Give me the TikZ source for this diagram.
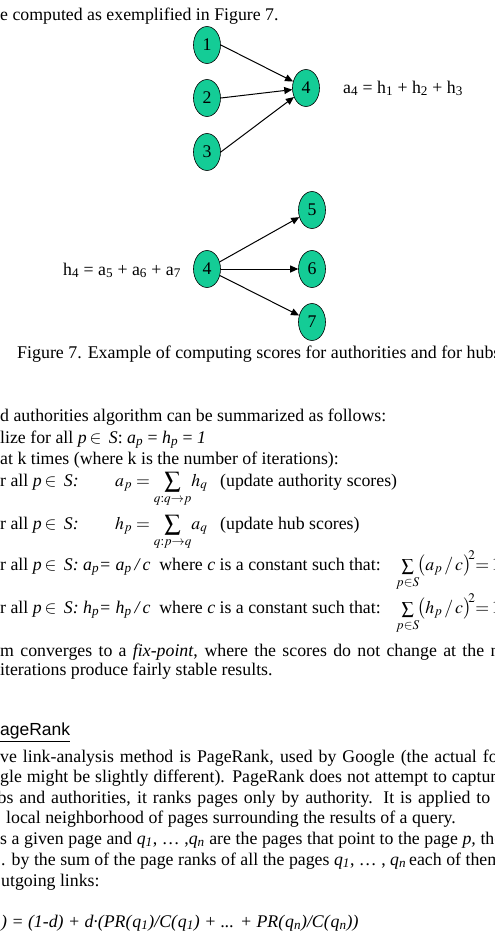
\documentclass[tikz,border=0pt]{standalone}
\usepackage{mathptmx}
\usepackage{amsmath}
\usepackage[no-math]{fontspec}
\setmainfont{Liberation Serif}
\newfontfamily\headfont{Liberation Sans}
\usetikzlibrary{shapes.geometric, arrows.meta}
\definecolor{pagegreen}{RGB}{20,204,150}
\newcommand{\tsub}[1]{\textsubscript{#1}}
\newcommand{\isub}[2]{\textit{#1}\textsubscript{\textit{#2}}}
\newcommand{\jline}[2]{\hbox to #1pt{#2}}
\newcommand{\psum}[1]{\mathop{\mbox{\fontsize{#1}{#1}\selectfont$\displaystyle\sum$}}}

\begin{document}
\begin{tikzpicture}[x=1pt, y=-1pt,
  every node/.style={inner sep=0pt},
  txt/.style={anchor=base west, font=\fontsize{17.8}{21}\selectfont},
  page/.style={ellipse, draw=black, semithick, fill=pagegreen,
               minimum width=27pt, minimum height=37pt,
               font=\fontsize{17.8}{21}\selectfont},
  link/.style={-{Triangle[length=8pt, width=7pt]}, line width=1pt}
]
\useasboundingbox (0,0) rectangle (495,946);
\clip (0,0) rectangle (495,946);

\node[txt] (intro) at (0,20) {e computed as exemplified in Figure 7.};

% authorities: 1,2,3 point to 4
\node[page] (auth1) at (207,45)  {1};
\node[page] (auth2) at (207,98)  {2};
\node[page] (auth3) at (207,152) {3};
\node[page] (auth4) at (306,88)  {4};
\draw[link] (auth1.east) -- (auth4);
\draw[link] (auth2.east) -- (auth4);
\draw[link] (auth3.east) -- (auth4);
\node[txt] (authEq) at (343,93) {a\tsub{4} = h\tsub{1} + h\tsub{2} + h\tsub{3}};

% hubs: 4 points to 5,6,7
\node[page] (hub4) at (207,269) {4};
\node[page] (hub5) at (312,210) {5};
\node[page] (hub6) at (312,269) {6};
\node[page] (hub7) at (312,322) {7};
\draw[link] (hub4) -- (hub5);
\draw[link] (hub4.east) -- (hub6.west);
\draw[link] (hub4) -- (hub7);
\node[txt] (hubEq) at (63,275) {h\tsub{4} = a\tsub{5} + a\tsub{6} + a\tsub{7}};

\node[txt, font=\fontsize{17.9}{21}\selectfont] (caption) at (17,358) {Figure 7. Example of computing scores for authorities and for hubs};

% algorithm
\node[txt] (alg0) at (0,421) {d authorities algorithm can be summarized as follows:};
\node[txt] (alg1) at (0,443) {lize for all \textit{p}\,$\in$\, \textit{S}: \isub{a}{p} = \isub{h}{p} = \textit{1}};
\node[txt] (alg2) at (0,464) {at k times (where k is the number of iterations):};
\node[txt] (alg3) at (0,486) {r all \textit{p}\,$\in$\, \textit{S:}};
\node[txt] (alg3m) at (115,486) {$a_p = \psum{16}\limits_{q:q\rightarrow p}\! h_q$};
\node[txt] (alg3c) at (220,486) {(update authority scores)};
\node[txt] (alg4) at (0,529) {r all \textit{p}\,$\in$\, \textit{S:}};
\node[txt] (alg4m) at (115,529) {$h_p = \psum{16}\limits_{q:p\rightarrow q}\! a_q$};
\node[txt] (alg4c) at (220,529) {(update hub scores)};
\node[txt] (alg5) at (0,570) {r all \textit{p}\,$\in$\, \textit{S: }\isub{a}{p}\textit{= }\isub{a}{p}\textit{\,/\,c}\ \ where \textit{c} is a constant such that:};
\node[txt] (alg5m) at (396,570) {$\psum{12}\limits_{p\in S}\!\bigl(a_p\,/\,c\bigr)^{\!\!2}{=}\,1$};
\node[txt] (alg6) at (0,613) {r all \textit{p}\,$\in$\, \textit{S: }\isub{h}{p}\textit{= }\isub{h}{p}\textit{\,/\,c}\ \ where \textit{c} is a constant such that:};
\node[txt] (alg6m) at (396,613) {$\psum{12}\limits_{p\in S}\!\bigl(h_p\,/\,c\bigr)^{\!\!2}{=}\,1$};
\node[txt] (conv0) at (0,656) {\jline{521}{m converges to a \textit{fix-point}, where the scores do not change at the next}};
\node[txt] (conv1) at (0,675) {iterations produce fairly stable results.};

% PageRank
\node[txt, font=\headfont\fontsize{17.5}{21}\selectfont] (prHead) at (-11.7,735) {\underline{PageRank}};
\node[txt] (pr0) at (0,762) {\jline{539}{ve link-analysis method is PageRank, used by Google (the actual formula}};
\node[txt] (pr1) at (0,782) {\jline{504}{gle might be slightly different). PageRank does not attempt to capture}};
\node[txt] (pr2) at (-2.5,803) {\jline{492.5}{bs and authorities, it ranks pages only by authority. It is applied to}};
\node[txt] (pr3) at (6,823) {local neighborhood of pages surrounding the results of a query.};
\node[txt] (pr4) at (0,844) {\jline{511}{s a given page and \isub{q}{1}, … ,\isub{q}{n} are the pages that point to the page \textit{p,} then}};
\node[txt] (pr5) at (1,865) {\jline{500}{. by the sum of the page ranks of all the pages \isub{q}{1}, … , \isub{q}{n}\,each of them}};
\node[txt] (pr6) at (1,886) {utgoing links:};
\node[txt] (prEq) at (1,927) {\textit{) = (1-d) + d·(PR(}\isub{q}{1}\textit{)/C(}\isub{q}{1}\textit{) + ... + PR(}\isub{q}{n}\textit{)/C(}\isub{q}{n}\textit{))}};
\end{tikzpicture}
\end{document}
